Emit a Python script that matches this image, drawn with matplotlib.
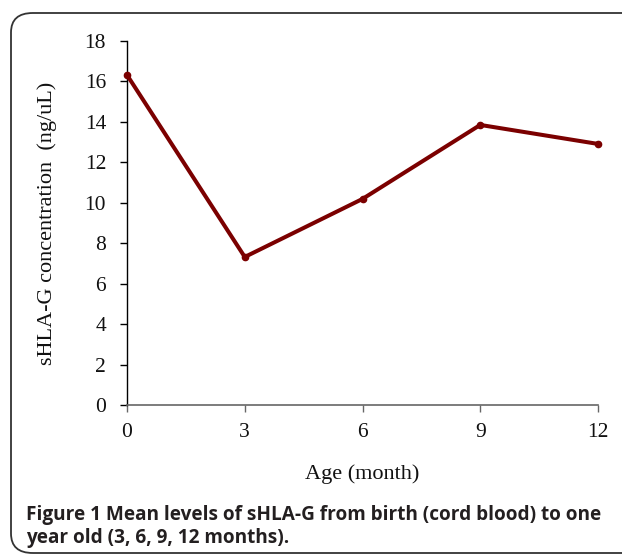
import matplotlib
matplotlib.use("Agg")
import matplotlib.pyplot as plt
from matplotlib.patches import FancyBboxPatch

months = [0, 3, 6, 9, 12]
shla_g = [16.32, 7.32, 10.19, 13.85, 12.91]
x_ticks = [0, 3, 6, 9, 12]
y_ticks = [0, 2, 4, 6, 8, 10, 12, 14, 16, 18]
x_label = "Age (month)"
y_label = "sHLA-G concentration  (ng/uL)"
caption_1 = "Figure 1 Mean levels of sHLA-G from birth (cord blood) to one"
caption_2 = "year old (3, 6, 9, 12 months)."

W, H = 622, 556
fig = plt.figure(figsize=(W / 100, H / 100), dpi=100)
ax = fig.add_axes([127 / W, 1 - 405 / H, (598 - 127) / W, (405 - 41) / H])

ax.plot(months, shla_g, color="#7b0000", lw=2.9, marker="o", ms=4.5,
        solid_joinstyle="miter", clip_on=False, zorder=3)
ax.set_xlim(0, 12)
ax.set_ylim(0, 18)
ax.set_xticks(x_ticks)
ax.set_yticks(y_ticks)

serif = "Liberation Serif"
for lab in ax.get_xticklabels() + ax.get_yticklabels():
    lab.set_fontfamily(serif)
    lab.set_fontsize(15.5)
    lab.set_color("#111111")

ax.spines["top"].set_visible(False)
ax.spines["right"].set_visible(False)
ax.spines["left"].set_color("#000000")
ax.spines["bottom"].set_color("#666666")
ax.spines["left"].set_linewidth(1.0)
ax.spines["bottom"].set_linewidth(1.2)
ax.tick_params(axis="y", direction="out", length=5, width=1.0, pad=10, color="#000000")
ax.tick_params(axis="x", direction="out", length=5, width=1.0, pad=8, color="#666666")

ax.set_xlabel(x_label, fontfamily=serif, fontsize=16, color="#111111", labelpad=16)
ax.set_ylabel(y_label, fontfamily=serif, fontsize=16, color="#111111", labelpad=20)

# rounded border
border = FancyBboxPatch((11 / W, 1 - 553 / H), 700 / W, (553 - 13) / H,
                        boxstyle="round,pad=0,rounding_size=0.035",
                        transform=fig.transFigure, fill=False,
                        edgecolor="#333333", lw=1.3, clip_on=False)
fig.patches.append(border)

cap_kw = dict(fontfamily="Open Sans", fontweight="bold", fontsize=13.7,
              color="#231f20", ha="left", va="baseline")
fig.text(26 / W, 1 - 520 / H, caption_1, **cap_kw)
fig.text(26 / W, 1 - 543 / H, caption_2, **cap_kw)

fig.savefig("out.png", dpi=100)
